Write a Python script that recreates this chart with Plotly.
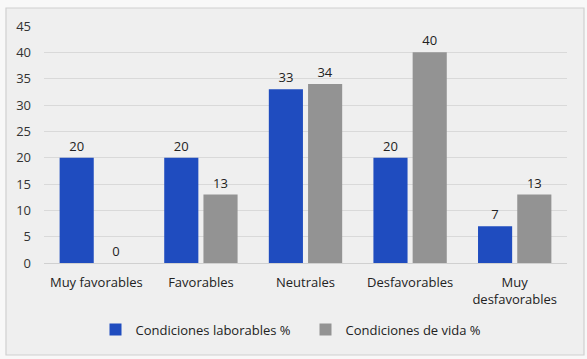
import plotly.graph_objects as go

categories = ["Muy favorables", "Favorables", "Neutrales", "Desfavorables", "Muy<br>desfavorables"]
laborales = [20, 20, 33, 20, 7]
vida = [0, 13, 34, 40, 13]
series_names = ["Condiciones laborables %", "Condiciones de vida %"]
y_ticks = [0, 5, 10, 15, 20, 25, 30, 35, 40, 45]

font_family = "Open Sans, Noto Sans, sans-serif"

fig = go.Figure()
fig.add_trace(go.Bar(
    x=categories, y=laborales, name=series_names[0],
    marker=dict(color="#1f4cbf", line=dict(width=0)),
    text=[str(v) for v in laborales], textposition="outside",
    textfont=dict(size=13, color="#222222", family=font_family),
    cliponaxis=False,
))
fig.add_trace(go.Bar(
    x=categories, y=vida, name=series_names[1],
    marker=dict(color="#939393", line=dict(width=0)),
    text=[str(v) for v in vida], textposition="outside",
    textfont=dict(size=13, color="#222222", family=font_family),
    cliponaxis=False,
))

fig.update_layout(
    width=587, height=359,
    margin=dict(l=44, r=20, t=26, b=96, autoexpand=False),
    paper_bgcolor="#f8f8f8",
    plot_bgcolor="rgba(0,0,0,0)",
    barmode="group",
    bargap=0.25,
    bargroupgap=0.13,
    font=dict(family=font_family, size=12, color="#222222"),
    showlegend=True,
    legend=dict(orientation="h", x=0.5, xanchor="center", y=-0.218, yanchor="top",
                font=dict(size=13, color="#222222"), bgcolor="rgba(0,0,0,0)",
                itemwidth=30, entrywidth=165, traceorder="normal"),
    yaxis=dict(range=[0, 45], tickvals=y_ticks, showgrid=True, gridcolor="#d9d9d9",
               gridwidth=1, zeroline=True, zerolinecolor="#d0d0d0", zerolinewidth=1,
               showline=False, ticks="", tickfont=dict(size=13, color="#333333"),
               ticklabelstandoff=12, automargin=False),
    xaxis=dict(showline=False, ticks="", tickfont=dict(size=13, color="#222222"),
               automargin=False, ticklabelstandoff=10),
    shapes=[dict(type="rect", xref="paper", yref="paper",
                 x0=-38/523, x1=1 + 17/523, y0=-92/237, y1=1 + 18/237,
                 line=dict(color="#d0d0d0", width=1.2), fillcolor="#efefef", layer="below")],
)

fig.write_html("out.html", config={"displayModeBar": False},
               post_script="document.body.style.margin='0';document.body.style.background='#f8f8f8';")
